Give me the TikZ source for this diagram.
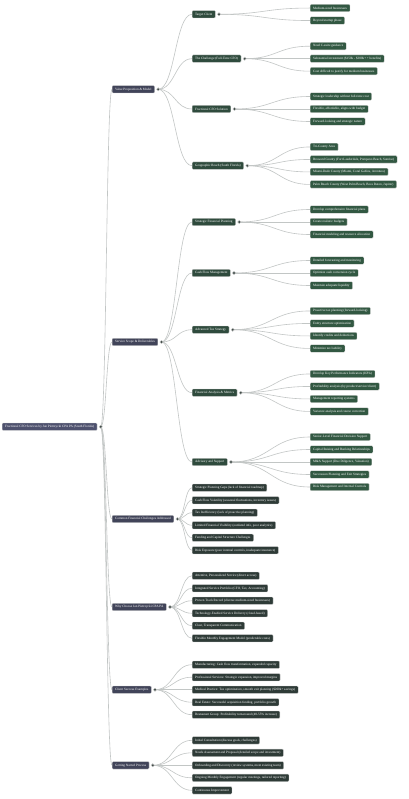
\documentclass[tikz,border=0pt]{standalone}
\usepackage{fontspec}
\setmainfont{Liberation Serif}
\usetikzlibrary{calc}
\definecolor{rootc}{HTML}{4E516E}
\definecolor{lonec}{HTML}{414459}
\definecolor{ltwoc}{HTML}{2F4B3D}
\definecolor{lthreec}{HTML}{325842}
\definecolor{leafc}{HTML}{2E3B37}
\definecolor{connc}{HTML}{C2C6C5}
\definecolor{dotc}{HTML}{3E4A46}
\pgfdeclarelayer{bg}
\pgfdeclarelayer{lines}
\pgfsetlayers{bg,lines,main}
\tikzset{
  box/.style={anchor=west, text=white, font=\fontsize{3.3}{3.9}\selectfont,
    rounded corners=1pt, inner xsep=3pt, inner ysep=0pt, minimum height=7.4pt,
    draw=gray!35, line width=0.3pt},
  rootbox/.style={box, fill=rootc},
  onebox/.style={box, fill=lonec},
  twobox/.style={box, fill=ltwoc},
  threebox/.style={box, fill=lthreec},
  leafbox/.style={box, fill=leafc},
  dotnode/.style={circle, fill=dotc, draw=gray!40, line width=0.4pt, inner sep=0pt, minimum size=3.2pt},
  conn/.style={draw=connc, line width=0.6pt},
}
\newcommand{\cn}[2]{%
  \coordinate (mm) at ($(#1dot.center)!0.5!(#2.west)$);
  \draw[conn] (#1dot.center) .. controls (mm |- #1dot.center) and (mm |- #2.west) .. (#2.west);}
\newcommand{\dt}[1]{\node[dotnode] (#1dot) at ([xshift=3.5pt]#1.east) {};}
\begin{document}
\begin{tikzpicture}[x=1pt,y=-1pt]
\begin{pgfonlayer}{bg}
\fill[white] (0,0) rectangle (408,799);
\end{pgfonlayer}
\useasboundingbox (0,0) rectangle (408,799);

% root
\node[rootbox] (r) at (2,426.7) {Fractional CFO Services by Jan Pietrzycki CPA PA (South Florida)};
\dt{r}
% level 1
\node[onebox] (v) at (112,89.3) {Value Proposition \& Model};
\node[onebox] (s) at (112,342) {Service Scope \& Deliverables};
\node[onebox] (c) at (112,519) {Common Financial Challenges Addressed};
\node[onebox] (w) at (112,607) {Why Choose Jan Pietrzycki CPA PA};
\node[onebox] (e) at (112,689.7) {Client Success Examples};
\node[onebox] (g) at (112,765.3) {Getting Started Process};
\dt{v}\dt{s}\dt{c}\dt{w}\dt{e}\dt{g}

% Value Proposition
\node[twobox] (va) at (192,14.3) {Target Client};
\node[twobox] (vb) at (192,58.7) {The Challenge (Full-Time CFO)};
\node[twobox] (vc) at (192,109) {Fractional CFO Solution};
\node[twobox] (vd) at (192,165.7) {Geographic Reach (South Florida)};
\dt{va}\dt{vb}\dt{vc}\dt{vd}
\node[threebox] (va1) at (310,8.05) {Medium-sized businesses};
\node[threebox] (va2) at (310,20.55) {Beyond startup phase};
\node[threebox] (vb1) at (310,46.2) {Need C-suite guidance};
\node[threebox] (vb2) at (310,58.7) {Substantial investment (\$150k - \$300k+ + benefits)};
\node[threebox] (vb3) at (310,71.2) {Cost difficult to justify for medium businesses};
\node[threebox] (vc1) at (310,96.5) {Strategic leadership without full-time cost};
\node[threebox] (vc2) at (310,109) {Flexible, affordable, aligns with budget};
\node[threebox] (vc3) at (310,121.5) {Forward-looking and strategic nature};
\node[threebox] (vd1) at (310,146.95) {Tri-County Area};
\node[threebox] (vd2) at (310,159.45) {Broward County (Fort Lauderdale, Pompano Beach, Sunrise)};
\node[threebox] (vd3) at (310,171.95) {Miami-Dade County (Miami, Coral Gables, Aventura)};
\node[threebox] (vd4) at (310,184.45) {Palm Beach County (West Palm Beach, Boca Raton, Jupiter)};

% Service Scope
\node[twobox] (sa) at (192,222) {Strategic Financial Planning};
\node[twobox] (sb) at (192,273) {Cash Flow Management};
\node[twobox] (sc) at (192,329.7) {Advanced Tax Strategy};
\node[twobox] (sd) at (192,392.7) {Financial Analysis \& Metrics};
\node[twobox] (se) at (192,462) {Advisory and Support};
\dt{sa}\dt{sb}\dt{sc}\dt{sd}\dt{se}
\node[threebox] (sa1) at (310,209.5) {Develop comprehensive financial plans};
\node[threebox] (sa2) at (310,222) {Create realistic budgets};
\node[threebox] (sa3) at (310,234.5) {Financial modeling and resource allocation};
\node[threebox] (sb1) at (310,260.5) {Detailed forecasting and monitoring};
\node[threebox] (sb2) at (310,273) {Optimize cash conversion cycle};
\node[threebox] (sb3) at (310,285.5) {Maintain adequate liquidity};
\node[threebox] (sc1) at (310,310.95) {Proactive tax planning (forward-looking)};
\node[threebox] (sc2) at (310,323.45) {Entity structure optimization};
\node[threebox] (sc3) at (310,335.95) {Identify credits and deductions};
\node[threebox] (sc4) at (310,348.45) {Minimize tax liability};
\node[threebox] (sd1) at (310,373.95) {Develop Key Performance Indicators (KPIs)};
\node[threebox] (sd2) at (310,386.45) {Profitability analysis (by product/service/client)};
\node[threebox] (sd3) at (310,398.95) {Management reporting systems};
\node[threebox] (sd4) at (310,411.45) {Variance analysis and course correction};
\node[threebox] (se1) at (310,437) {Senior-Level Financial Decision Support};
\node[threebox] (se2) at (310,449.5) {Capital Raising and Banking Relationships};
\node[threebox] (se3) at (310,462) {M\&A Support (Due Diligence, Valuation)};
\node[threebox] (se4) at (310,474.5) {Succession Planning and Exit Strategies};
\node[threebox] (se5) at (310,487) {Risk Management and Internal Controls};

% Common challenges
\node[leafbox] (c1) at (192,487.75) {Strategic Planning Gaps (lack of financial roadmap)};
\node[leafbox] (c2) at (192,500.25) {Cash Flow Volatility (seasonal fluctuations, inventory issues)};
\node[leafbox] (c3) at (192,512.75) {Tax Inefficiency (lack of proactive planning)};
\node[leafbox] (c4) at (192,525.25) {Limited Financial Visibility (outdated info, poor analytics)};
\node[leafbox] (c5) at (192,537.75) {Funding and Capital Structure Challenges};
\node[leafbox] (c6) at (192,550.25) {Risk Exposure (poor internal controls, inadequate insurance)};

% Why choose
\node[leafbox] (w1) at (192,575.75) {Attentive, Personalized Service (direct access)};
\node[leafbox] (w2) at (192,588.25) {Integrated Service Portfolio (CFO, Tax, Accounting)};
\node[leafbox] (w3) at (192,600.75) {Proven Track Record (diverse medium-sized businesses)};
\node[leafbox] (w4) at (192,613.25) {Technology-Enabled Service Delivery (cloud-based)};
\node[leafbox] (w5) at (192,625.75) {Clear, Transparent Communication};
\node[leafbox] (w6) at (192,638.25) {Flexible Monthly Engagement Model (predictable costs)};

% Client success
\node[leafbox] (e1) at (192,664.7) {Manufacturing: Cash flow transformation, expanded capacity};
\node[leafbox] (e2) at (192,677.2) {Professional Services: Strategic expansion, improved margins};
\node[leafbox] (e3) at (192,689.7) {Medical Practice: Tax optimization, smooth exit planning (\$200k+ savings)};
\node[leafbox] (e4) at (192,702.2) {Real Estate: Successful acquisition funding, portfolio growth};
\node[leafbox] (e5) at (192,714.7) {Restaurant Group: Profitability turnaround (40-55\% increase)};

% Getting started
\node[leafbox] (g1) at (192,740.3) {Initial Consultation (discuss goals, challenges)};
\node[leafbox] (g2) at (192,752.8) {Needs Assessment and Proposal (detailed scope and investment)};
\node[leafbox] (g3) at (192,765.3) {Onboarding and Discovery (review systems, meet existing team)};
\node[leafbox] (g4) at (192,777.8) {Ongoing Monthly Engagement (regular meetings, tailored reporting)};
\node[leafbox] (g5) at (192,790.3) {Continuous Improvement};

\begin{pgfonlayer}{lines}
\foreach \k in {v,s,c,w,e,g} {\cn{r}{\k}}
\foreach \k in {va,vb,vc,vd} {\cn{v}{\k}}
\foreach \k in {sa,sb,sc,sd,se} {\cn{s}{\k}}
\foreach \k in {1,2,3,4,5,6} {\cn{c}{c\k}\cn{w}{w\k}}
\foreach \k in {1,2,3,4,5} {\cn{e}{e\k}\cn{g}{g\k}}
\foreach \k in {1,2} {\cn{va}{va\k}}
\foreach \k in {1,2,3} {\cn{vb}{vb\k}\cn{vc}{vc\k}\cn{sa}{sa\k}\cn{sb}{sb\k}}
\foreach \k in {1,2,3,4} {\cn{vd}{vd\k}\cn{sc}{sc\k}\cn{sd}{sd\k}}
\foreach \k in {1,2,3,4,5} {\cn{se}{se\k}}
\end{pgfonlayer}
\end{tikzpicture}
\end{document}
